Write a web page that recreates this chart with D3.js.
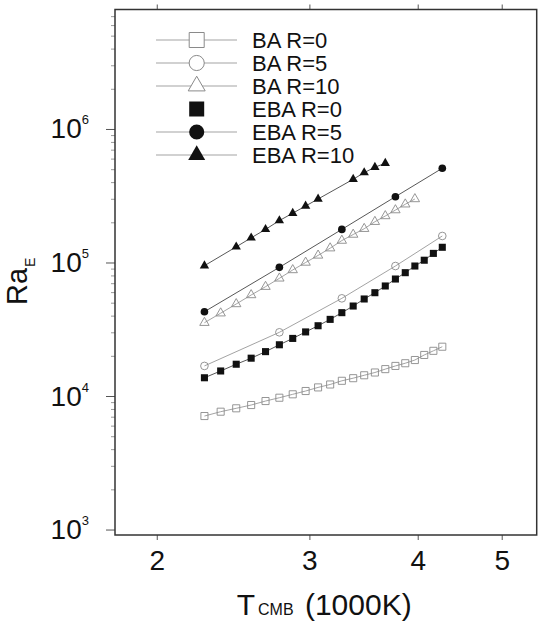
<!DOCTYPE html>
<html>
<head>
<meta charset="utf-8">
<script src="https://cdn.jsdelivr.net/npm/d3@7"></script>
<style>
  body { margin: 0; background: #fff; }
  svg { display: block; }
  text { font-family: "Liberation Sans", Arial, Helvetica, sans-serif; fill: #111; }
</style>
</head>
<body>
<div id="chart"></div>
<script>
// T_CMB (1000K) values
const tempAll = [2.27, 2.37, 2.47, 2.57, 2.67, 2.77, 2.87, 2.97, 3.07, 3.17, 3.27,
                 3.37, 3.47, 3.57, 3.67, 3.77, 3.87, 3.97, 4.07, 4.17, 4.27];
const tempR5 = [2.27, 2.77, 3.27, 3.77, 4.27];
const tempBaR10 = [2.27, 2.37, 2.47, 2.57, 2.67, 2.77, 2.87, 2.97, 3.07,
                   3.17, 3.27, 3.37, 3.47, 3.57, 3.67, 3.77, 3.87, 3.97];
const tempEbaR10 = [2.27, 2.47, 2.57, 2.67, 2.77, 2.87, 2.97, 3.07, 3.37, 3.47, 3.57, 3.67];

// Ra_E values
const baR0 = [7080, 7630, 8090, 8560, 9170, 9710, 10300, 10900, 11600, 12200, 13000,
              13600, 14300, 15000, 15900, 16800, 17600, 18600, 20300, 21800, 23400];
const ebaR0 = [13700, 15400, 17300, 19200, 21500, 24200, 27000, 30200, 33600, 37500, 42100,
               47200, 53300, 59400, 66700, 75200, 83900, 94100, 104000, 117000, 130000];
const baR5 = [16800, 30000, 53900, 94100, 158000];
const ebaR5 = [42800, 92000, 177000, 311000, 508000];
const baR10 = [35400, 41700, 48900, 57100, 65900, 76100, 87900, 100000, 113000,
               128000, 146000, 162000, 179000, 202000, 223000, 247000, 273000, 299000];
const ebaR10 = [94600, 131000, 153000, 177000, 206000, 234000, 265000, 299000,
                420000, 471000, 517000, 554000];

const xTicks = [2, 3, 4, 5];
const yMajor = [1e3, 1e4, 1e5, 1e6];
const yMajorExp = ["3", "4", "5", "6"];

const ctx = {
    W: 538,
    H: 624,
    box: { left: 115, top: 9.5, right: 536.7, bottom: 535 },
    gray: "#8a8a8a",
    dark: "#111"
};

// series: label, x, y, symbol, filled
const series = [
    { label: "BA R=0",   xs: tempAll,    ys: baR0,   sym: d3.symbolSquare,   filled: false },
    { label: "BA R=5",   xs: tempR5,     ys: baR5,   sym: d3.symbolCircle,   filled: false },
    { label: "BA R=10",  xs: tempBaR10,  ys: baR10,  sym: d3.symbolTriangle, filled: false },
    { label: "EBA R=0",  xs: tempAll,    ys: ebaR0,  sym: d3.symbolSquare,   filled: true },
    { label: "EBA R=5",  xs: tempR5,     ys: ebaR5,  sym: d3.symbolCircle,   filled: true },
    { label: "EBA R=10", xs: tempEbaR10, ys: ebaR10, sym: d3.symbolTriangle, filled: true }
];

function symSize(sym, big) {
    // area of the symbol, side ~7-9px in the plot, ~15-17px in the legend
    if (sym === d3.symbolSquare) return big ? 225 : 50;
    if (sym === d3.symbolCircle) return big ? 180 : 46;
    return big ? 125 : 38;
}

function createViz() {
    const b = ctx.box;
    const svg = d3.select("#chart").append("svg")
        .attr("width", ctx.W)
        .attr("height", ctx.H);

    const x = d3.scaleLog().domain([1.79, 5.487]).range([b.left, b.right]);
    const y = d3.scaleLog().domain([910, 7.85e6]).range([b.bottom, b.top]);

    // minor y ticks
    const yMinor = [];
    for (let e = 3; e <= 6; e++) {
        for (let m = 2; m <= 9; m++) {
            const v = m * Math.pow(10, e);
            if (v < 7.85e6) yMinor.push(v);
        }
    }

    const gMinor = svg.append("g")
        .attr("transform", `translate(${b.left},0)`)
        .call(d3.axisLeft(y).tickValues(yMinor).tickSize(4).tickFormat(""));
    gMinor.select(".domain").remove();
    gMinor.selectAll("line").attr("stroke", "#999");

    const gMajor = svg.append("g")
        .attr("transform", `translate(${b.left},0)`)
        .call(d3.axisLeft(y).tickValues(yMajor).tickSize(9).tickFormat(""));
    gMajor.select(".domain").remove();
    gMajor.selectAll("line").attr("stroke", "#555");

    // y tick labels 10^n
    yMajor.forEach((v, i) => {
        const t = svg.append("text")
            .attr("x", 89)
            .attr("y", y(v) + 9.5)
            .attr("text-anchor", "end");
        t.append("tspan").attr("font-size", 28).text("10");
        t.append("tspan").attr("font-size", 13).attr("dy", -14).text(yMajorExp[i]);
    });

    // bottom axis
    const gx = svg.append("g")
        .attr("transform", `translate(0,${b.bottom})`)
        .call(d3.axisBottom(x).tickValues(xTicks).tickSize(5).tickPadding(10)
            .tickFormat(d3.format("d")));
    gx.select(".domain").remove();
    gx.selectAll("line").attr("stroke", "#555");
    gx.selectAll("text")
        .attr("font-size", 28)
        .attr("font-family", "Liberation Sans, Arial, sans-serif")
        .attr("fill", ctx.dark);

    // top axis (ticks only)
    const gt = svg.append("g")
        .attr("transform", `translate(0,${b.top})`)
        .call(d3.axisTop(x).tickValues(xTicks).tickSize(5).tickFormat(""));
    gt.select(".domain").remove();
    gt.selectAll("line").attr("stroke", "#555");

    // frame
    svg.append("rect")
        .attr("x", b.left)
        .attr("y", b.top)
        .attr("width", b.right - b.left)
        .attr("height", b.bottom - b.top)
        .attr("fill", "none")
        .attr("stroke", "#333")
        .attr("stroke-width", 1.5);

    // series lines and markers
    const line = d3.line().x(d => x(d[0])).y(d => y(d[1]));
    series.forEach(s => {
        const pts = s.xs.map((t, i) => [t, s.ys[i]]);
        svg.append("path")
            .datum(pts)
            .attr("d", line)
            .attr("fill", "none")
            .attr("stroke", s.filled ? "#444" : "#999")
            .attr("stroke-width", 0.9);

        svg.selectAll(null)
            .data(pts)
            .enter()
            .append("path")
            .attr("transform", d => `translate(${x(d[0])},${y(d[1])})`)
            .attr("d", d3.symbol().type(s.sym).size(symSize(s.sym, false)))
            .attr("fill", s.filled ? ctx.dark : "none")
            .attr("stroke", s.filled ? ctx.dark : ctx.gray)
            .attr("stroke-width", s.filled ? 0 : 0.9);
    });

    // legend
    const leg = svg.append("g");
    series.forEach((s, i) => {
        const ly = 40 + 23 * i;
        if (s.label !== "EBA R=0") {
            leg.append("line")
                .attr("x1", 156).attr("x2", 237)
                .attr("y1", ly).attr("y2", ly)
                .attr("stroke", "#999")
                .attr("stroke-width", 0.9);
        }
        leg.append("path")
            .attr("transform", `translate(196.7,${ly})`)
            .attr("d", d3.symbol().type(s.sym).size(symSize(s.sym, true)))
            .attr("fill", s.filled ? ctx.dark : "#fff")
            .attr("stroke", s.filled ? ctx.dark : ctx.gray)
            .attr("stroke-width", s.filled ? 0 : 1);
        leg.append("text")
            .attr("x", 252)
            .attr("y", ly + 7.5)
            .attr("font-size", 22)
            .text(s.label);
    });

    // y title Ra_E
    const yt = svg.append("text")
        .attr("transform", "translate(27,305) rotate(-90)");
    yt.append("tspan").attr("font-size", 29).text("Ra");
    yt.append("tspan").attr("font-size", 14).attr("dx", 1).attr("dy", 8).text("E");

    // x title T_CMB (1000K)
    const xt = svg.append("text")
        .attr("x", 236.7)
        .attr("y", 615);
    xt.append("tspan").attr("font-size", 30).text("T");
    xt.append("tspan").attr("font-size", 16).attr("dx", 3).text("CMB");
    xt.append("tspan").attr("font-size", 30).attr("dx", 3).text(" (1000K)");
}

createViz();
</script>
</body>
</html>
